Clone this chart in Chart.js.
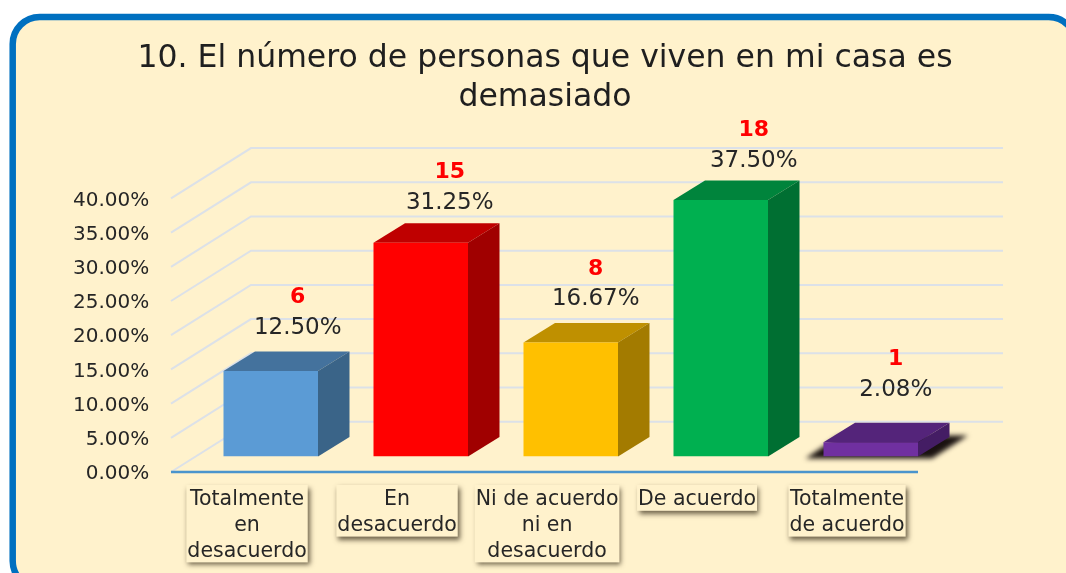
<!DOCTYPE html>
<html>
<head>
<meta charset="utf-8">
<style>
  html, body { margin: 0; padding: 0; background: #fff; overflow: hidden; }
  #wrap { position: relative; width: 1066px; height: 573px; }
  canvas { display: block; }
</style>
<script src="https://cdn.jsdelivr.net/npm/chart.js@4"></script>
</head>
<body>
<div id="wrap"><canvas id="chart" width="1066" height="573"></canvas></div>
<script>
const categories = [
  ['Totalmente', 'en', 'desacuerdo'],
  ['En', 'desacuerdo'],
  ['Ni de acuerdo', 'ni en', 'desacuerdo'],
  ['De acuerdo'],
  ['Totalmente', 'de acuerdo']
];
const percentages = [12.5, 31.25, 16.67, 37.5, 2.08];
const counts = [6, 15, 8, 18, 1];
const yTicks = [0, 5, 10, 15, 20, 25, 30, 35, 40];

const frontColors = ['#5B9BD5', '#FF0000', '#FFC000', '#00B050', '#7030A0'];
const topColors = ['#44729D', '#BF0000', '#BF9000', '#00843C', '#54247A'];
const sideColors = ['#3A6488', '#A00000', '#A37B00', '#006F32', '#441D64'];

// nudges for the two labels over each bar
const labelDx = [27, 29, 25, 33, 25];
const labelDy = [43, 40, 43, 39, 52];

const font = 'DejaVu Sans';
const textColor = '#262626';
const catSize = 20.5;

const depth = { x: 31.5, y: 19.5 };      // bar side
const wall = { x: 55, y: 34.8 };         // back wall from bar plane
const floor = { x: 25, y: 15.5 };        // front edge from bar plane
const gridLeft = 171, gridRight = 1003, axisRight = 918;

function poly(ctx, pts, color) {
  ctx.fillStyle = color;
  ctx.beginPath();
  pts.forEach((p, i) => i ? ctx.lineTo(p[0], p[1]) : ctx.moveTo(p[0], p[1]));
  ctx.closePath();
  ctx.fill();
}

const scenePlugin = {
  id: 'scene',
  beforeDraw(chart) {
    const ctx = chart.ctx;
    const y = chart.scales.y, x = chart.scales.x;
    ctx.save();
    // panel
    ctx.fillStyle = '#FFF2CC';
    ctx.strokeStyle = '#0070C0';
    ctx.lineWidth = 6.5;
    ctx.beginPath();
    ctx.roundRect(12.7, 17, 1063, 571, 27);
    ctx.fill();
    ctx.stroke();

    // walls
    ctx.strokeStyle = '#DCE1E8';
    ctx.lineWidth = 2;
    yTicks.forEach(v => {
      const py = y.getPixelForValue(v);
      ctx.beginPath();
      ctx.moveTo(gridLeft, py + floor.y);
      ctx.lineTo(gridLeft + floor.x + wall.x, py - wall.y);
      ctx.lineTo(gridRight, py - wall.y);
      ctx.stroke();
    });
    ctx.strokeStyle = '#4A94CC';
    ctx.lineWidth = 2.5;
    ctx.beginPath();
    ctx.moveTo(gridLeft, y.getPixelForValue(0) + floor.y);
    ctx.lineTo(axisRight, y.getPixelForValue(0) + floor.y);
    ctx.stroke();

    // boxes behind the category labels
    ctx.font = catSize + 'px "' + font + '"';
    categories.forEach((lines, i) => {
      const w = Math.max(...lines.map(t => ctx.measureText(t).width)) + 2;
      const cx = x.getPixelForTick(i) - 23.7;
      ctx.shadowColor = 'rgba(60,50,30,0.75)';
      ctx.shadowBlur = 5;
      ctx.shadowOffsetX = 2;
      ctx.shadowOffsetY = 3;
      ctx.fillStyle = '#FFF2CC';
      ctx.fillRect(cx - w / 2, 485, w, lines.length * 25.8);
    });
    ctx.restore();
  },
  beforeDatasetsDraw(chart) {
    const ctx = chart.ctx;
    const bars = chart.getDatasetMeta(0).data;
    // floor shadow under the flat last bar
    const last = bars[bars.length - 1];
    const sl = last.x - last.width / 2, sr = last.x + last.width / 2;
    ctx.save();
    ctx.filter = 'blur(2.5px)';
    poly(ctx, [
      [sl - 18, last.base + 2], [sr + 14, last.base + 2],
      [sr + 50, last.base - 21], [sl + 16, last.base - 21]
    ], '#1A1210');
    ctx.restore();
    ctx.save();
    bars.forEach((bar, i) => {
      const l = bar.x - bar.width / 2, r = bar.x + bar.width / 2;
      poly(ctx, [[l, bar.y], [r, bar.y], [r + depth.x, bar.y - depth.y], [l + depth.x, bar.y - depth.y]], topColors[i]);
      poly(ctx, [[r, bar.y], [r + depth.x, bar.y - depth.y], [r + depth.x, bar.base - depth.y], [r, bar.base]], sideColors[i]);
    });
    ctx.restore();
  },
  afterDatasetsDraw(chart) {
    const ctx = chart.ctx;
    ctx.save();
    ctx.textAlign = 'center';
    ctx.textBaseline = 'middle';
    chart.getDatasetMeta(0).data.forEach((bar, i) => {
      const cx = bar.x + labelDx[i];
      ctx.font = '23px "' + font + '"';
      ctx.fillStyle = textColor;
      ctx.fillText(percentages[i].toFixed(2) + '%', cx, bar.y - labelDy[i]);
      ctx.font = 'bold 22px "' + font + '"';
      ctx.fillStyle = '#FF0000';
      ctx.fillText(counts[i], cx, bar.y - labelDy[i] - 30.5);
    });
    ctx.restore();
  }
};

new Chart(document.getElementById('chart'), {
  type: 'bar',
  plugins: [scenePlugin],
  data: {
    labels: categories,
    datasets: [{
      data: percentages,
      backgroundColor: frontColors,
      borderWidth: 0,
      barPercentage: 0.63,
      categoryPercentage: 1
    }]
  },
  options: {
    responsive: false,
    animation: false,
    layout: { padding: { left: 48, right: 24, top: 0, bottom: 0 } },
    plugins: {
      legend: { display: false },
      tooltip: { enabled: false },
      title: {
        display: true,
        text: ['10. El número de personas que viven en mi casa es', 'demasiado'],
        color: '#1F1F1F',
        font: { family: font, size: 31.5, weight: 'normal', lineHeight: 39 / 31.5 },
        padding: { top: 39.5, bottom: 65.4 }
      }
    },
    scales: {
      x: {
        grid: { display: false, drawTicks: false },
        border: { display: false },
        afterFit(scale) { scale.height = 116.5; },
        ticks: {
          color: textColor,
          maxRotation: 0,
          autoSkip: false,
          labelOffset: -23.7,
          padding: 30.5,
          font: { family: font, size: catSize, lineHeight: 25.8 / catSize }
        }
      },
      y: {
        min: 0,
        max: 40,
        grid: { display: false, drawTicks: false },
        border: { display: false },
        afterFit(scale) { scale.width = 147.75; },
        ticks: {
          stepSize: 5,
          color: textColor,
          padding: 46.5,
          labelOffset: 17.5,
          font: { family: font, size: 20 },
          callback: v => v.toFixed(2) + '%'
        }
      },
      // empty axis, only holds the room right of the bars so the title stays centred
      spacer: {
        position: 'right',
        grid: { display: false, drawTicks: false },
        border: { display: false },
        ticks: { display: false },
        afterFit(scale) { scale.width = 96.25; }
      }
    }
  }
});
</script>
</body>
</html>
